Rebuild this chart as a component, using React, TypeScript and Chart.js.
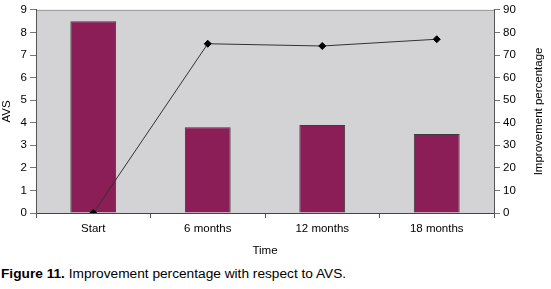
import React, { useEffect, useRef } from "react";
import { Chart, registerables } from "chart.js";

Chart.register(...registerables);

const categories = ["Start", "6 months", "12 months", "18 months"];
const avsValues = [8.5, 3.8, 3.9, 3.5];
const improvementValues = [0, 75, 74, 77];
const rightTitle = "Improvement percentage";

const FAMILY = "'Liberation Sans', Arial, sans-serif";

const bgPlugin = {
  id: "plotBg",
  beforeDraw(chart: any) {
    const { ctx, chartArea } = chart;
    if (!chartArea) return;
    ctx.save();
    ctx.fillStyle = "#d3d3d5";
    ctx.fillRect(chartArea.left, chartArea.top, chartArea.right - chartArea.left, chartArea.bottom - chartArea.top);
    ctx.strokeStyle = "#9a9a9a";
    ctx.lineWidth = 1;
    ctx.beginPath();
    ctx.moveTo(chartArea.left, chartArea.top + 0.5);
    ctx.lineTo(chartArea.right, chartArea.top + 0.5);
    ctx.stroke();
    ctx.restore();
  },
  afterDraw(chart: any) {
    const { ctx, chartArea } = chart;
    if (!chartArea) return;
    ctx.save();
    ctx.translate(chartArea.right + 45, (chartArea.top + chartArea.bottom) / 2);
    ctx.rotate(-Math.PI / 2);
    ctx.fillStyle = "#000";
    ctx.font = `11.5px ${FAMILY}`;
    ctx.textAlign = "center";
    ctx.textBaseline = "middle";
    ctx.fillText(rightTitle, 0, 0);
    ctx.restore();
  },
};

export default function App() {
  const ref = useRef<HTMLCanvasElement>(null);
  useEffect(() => {
    if (!ref.current) return;
    const font = { family: FAMILY, size: 11.5 };
    const chart = new Chart(ref.current, {
      type: "bar",
      data: {
        labels: categories,
        datasets: [
          {
            type: "line",
            label: "Improvement percentage",
            data: improvementValues,
            yAxisID: "y1",
            borderColor: "#333",
            borderWidth: 1,
            pointStyle: "rectRot",
            pointRadius: 3.5,
            pointBackgroundColor: "#000",
            pointBorderColor: "#000",
            tension: 0,
            order: 0,
          } as any,
          {
            type: "bar",
            label: "AVS",
            data: avsValues,
            yAxisID: "y",
            backgroundColor: "#8b1d57",
            borderColor: "#3c3c3c",
            borderWidth: 1,
            barPercentage: 0.4,
            categoryPercentage: 1,
            order: 1,
          },
        ],
      },
      options: {
        responsive: false,
        animation: false,
        layout: { padding: { top: 9, left: 0, right: 0, bottom: 0 } },
        plugins: { legend: { display: false }, tooltip: { enabled: false } },
        scales: {
          x: {
            offset: true,
            grid: { offset: true, drawOnChartArea: false, tickLength: 5, color: "#555" },
            border: { color: "#444" },
            ticks: { color: "#000", font, padding: 4 },
            title: { display: true, text: "Time", color: "#000", font, padding: { top: 2, bottom: 0 } },
            afterFit: (s: any) => { s.height = 45; },
          },
          y: {
            position: "left",
            min: 0,
            max: 9,
            ticks: { stepSize: 1, color: "#000", font, padding: 3 },
            grid: { drawOnChartArea: false, tickLength: 6, color: "#777" },
            border: { color: "#555" },
            title: { display: true, text: "AVS", color: "#000", font, padding: 0 },
            afterFit: (s: any) => { s.width = 36; },
          },
          y1: {
            position: "right",
            min: 0,
            max: 90,
            ticks: { stepSize: 10, color: "#000", font, padding: 3 },
            grid: { drawOnChartArea: false, tickLength: 6, color: "#777" },
            border: { color: "#555" },
            title: { display: false },
            afterFit: (s: any) => { s.width = 57; },
          },
        },
      },
      plugins: [bgPlugin],
    });
    return () => chart.destroy();
  }, []);
  return (
    <div style={{ position: "absolute", left: 0, top: 0, width: 551, height: 289, background: "#fff" }}>
      <canvas ref={ref} width={551} height={258} style={{ display: "block" }} />
      <div
        style={{
          position: "absolute",
          left: 1,
          top: 266,
          fontFamily: FAMILY,
          fontSize: 13.7,
          color: "#000",
          whiteSpace: "nowrap",
        }}
      >
        <b>Figure 11.</b> Improvement percentage with respect to AVS.
      </div>
    </div>
  );
}
